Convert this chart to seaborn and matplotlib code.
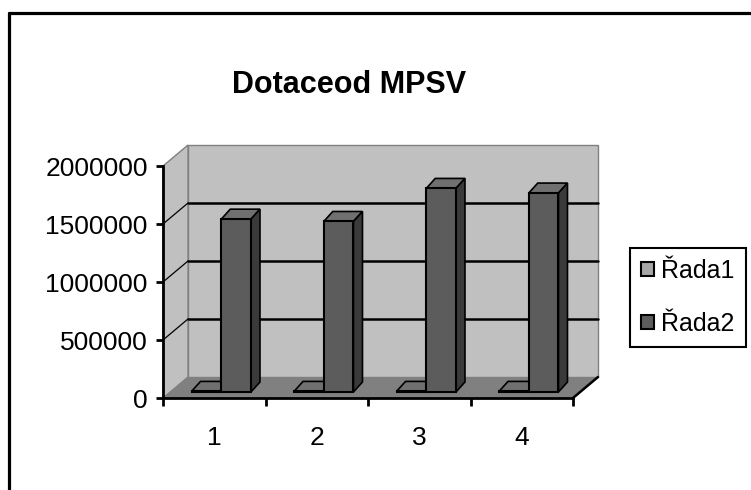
import matplotlib
matplotlib.use("Agg")
import matplotlib.pyplot as plt
import pandas as pd
import seaborn as sns
from matplotlib.lines import Line2D
from matplotlib.patches import Polygon

CATEGORIES = ["1", "2", "3", "4"]
RADA1 = [5000, 5000, 5000, 5000]
RADA2 = [1490000, 1470000, 1755000, 1715000]
SERIES = ["Řada1", "Řada2"]
Y_TICKS = [0, 500000, 1000000, 1500000, 2000000]
TITLE = "Dotaceod MPSV"

PALETTE = {"Řada1": "#A6A6A6", "Řada2": "#5C5C5C"}
WALL = "#C0C0C0"
FLOOR = "#808080"

sns.set_style("white")
plt.rcParams["font.family"] = ["Liberation Sans", "DejaVu Sans"]
plt.rcParams.update({"text.color": "black", "xtick.color": "black",
                     "ytick.color": "black", "axes.labelcolor": "black"})

W, H = 751, 490
fig = plt.figure(figsize=(W / 100, H / 100), dpi=100)
# front plane of the 3d box, in pixels: x 163..573, y 398 (0) .. 166 (2M)
ax = fig.add_axes([163 / W, (H - 398) / H, 410 / W, 232 / H])
PX_X = 4 / 410
PX_Y = 2000000 / 232

df = pd.DataFrame({
    "cat": CATEGORIES * 2,
    "value": RADA1 + RADA2,
    "series": [SERIES[0]] * 4 + [SERIES[1]] * 4,
})
sns.barplot(data=df, x="cat", y="value", hue="series", palette=PALETTE,
            width=0.58, edgecolor="black", linewidth=1.5, saturation=1,
            ax=ax)
ax.set_xlim(-0.5, 3.5)
ax.set_ylim(0, 2000000)
bars = list(ax.patches)
handles, labels = ax.get_legend_handles_labels()
if ax.legend_ is not None:
    ax.legend_.remove()


def off(x, y, dx, dy):
    return (x + dx * PX_X, y + dy * PX_Y)


def poly(pts, fc, ec="none", lw=0, z=1):
    p = Polygon(pts, closed=True, facecolor=fc, edgecolor=ec, linewidth=lw,
                zorder=z, clip_on=False)
    ax.add_patch(p)


# walls and floor
DX, DY = 25, 21
x0, x1, top = -0.5, 3.5, 2000000
poly([off(x0, 0, DX, DY), off(x1, 0, DX, DY), off(x1, top, DX, DY),
      off(x0, top, DX, DY)], WALL, "#808080", 1, 0.1)
poly([(x0, 0), (x0, top), off(x0, top, DX, DY), off(x0, 0, DX, DY)],
     WALL, "#808080", 1, 0.2)
poly([(x0, 0), (x1, 0), off(x1, 0, DX, DY), off(x0, 0, DX, DY)], FLOOR, z=0.3)
for v in Y_TICKS[1:-1]:
    ax.plot([off(x0, v, DX, DY)[0], off(x1, v, DX, DY)[0]],
            [off(x0, v, DX, DY)[1]] * 2, color="black", lw=1.8,
            zorder=0.4, clip_on=False)
    ax.plot([x0, off(x0, v, DX, DY)[0]], [v, off(x0, v, DX, DY)[1]],
            color="black", lw=0.9, zorder=0.4, clip_on=False)
ax.plot([x1, off(x1, 0, DX, DY)[0]], [0, off(x1, 0, DX, DY)[1]],
        color="black", lw=1.8, zorder=0.5, clip_on=False)

# 3d bars: front face shifted into the box, then top and side faces
FX, FY = 7, 6
BX, BY = 9, 10
for b in bars:
    bx, bw, bh = b.get_x(), b.get_width(), b.get_height()
    fx, fy = off(bx, 0, FX, FY)
    b.set_x(fx)
    b.set_y(fy)
    b.set_zorder(4)
    b.set_clip_on(False)
    poly([(fx, fy + bh), (fx + bw, fy + bh), off(fx + bw, fy + bh, BX, BY),
          off(fx, fy + bh, BX, BY)], "#707070", "black", 1.2, 3)
    poly([(fx + bw, fy), off(fx + bw, fy, BX, BY), off(fx + bw, fy + bh, BX, BY),
          (fx + bw, fy + bh)], "#3A3A3A", "black", 1.2, 3)

# axes
for s in ["top", "right"]:
    ax.spines[s].set_visible(False)
for s in ["left", "bottom"]:
    ax.spines[s].set_color("black")
    ax.spines[s].set_linewidth(2)
    ax.spines[s].set_zorder(5)
ax.set_yticks(Y_TICKS)
ax.set_yticklabels([str(v) for v in Y_TICKS])
ax.set_xticks(range(4))
ax.set_xticklabels(CATEGORIES)
ax.set_xticks([-0.5, 0.5, 1.5, 2.5, 3.5], minor=True)
ax.tick_params(axis="y", left=True, length=5, width=2, labelsize=19, pad=6)
ax.tick_params(axis="x", which="major", bottom=False, length=0, labelsize=19, pad=20)
ax.tick_params(axis="x", which="minor", bottom=True, length=6, width=2)
ax.set_xlabel("")
ax.set_ylabel("")
ax.grid(False)
ax.patch.set_visible(False)

ax.legend(handles, labels, loc="upper left", bbox_to_anchor=(630 / W, 1 - 248 / H),
          bbox_transform=fig.transFigure, borderaxespad=0, fontsize=18,
          handlelength=0.5, handleheight=0.5, handletextpad=0.3,
          labelspacing=1.15, borderpad=0.45, fancybox=False, framealpha=1,
          edgecolor="black")
ax.legend_.get_frame().set_linewidth(1.5)

fig.text(349 / W, 1 - 85 / H, TITLE, ha="center", va="center", fontsize=22,
         fontweight="bold")

# outer chart frame (only top and left edges are visible)
fig.add_artist(Line2D([9 / W, 1], [1 - 13 / H, 1 - 13 / H], color="black", lw=2.3))
fig.add_artist(Line2D([9 / W, 9 / W], [0, 1 - 13 / H], color="black", lw=2.3))

fig.savefig("out.png", dpi=100)
